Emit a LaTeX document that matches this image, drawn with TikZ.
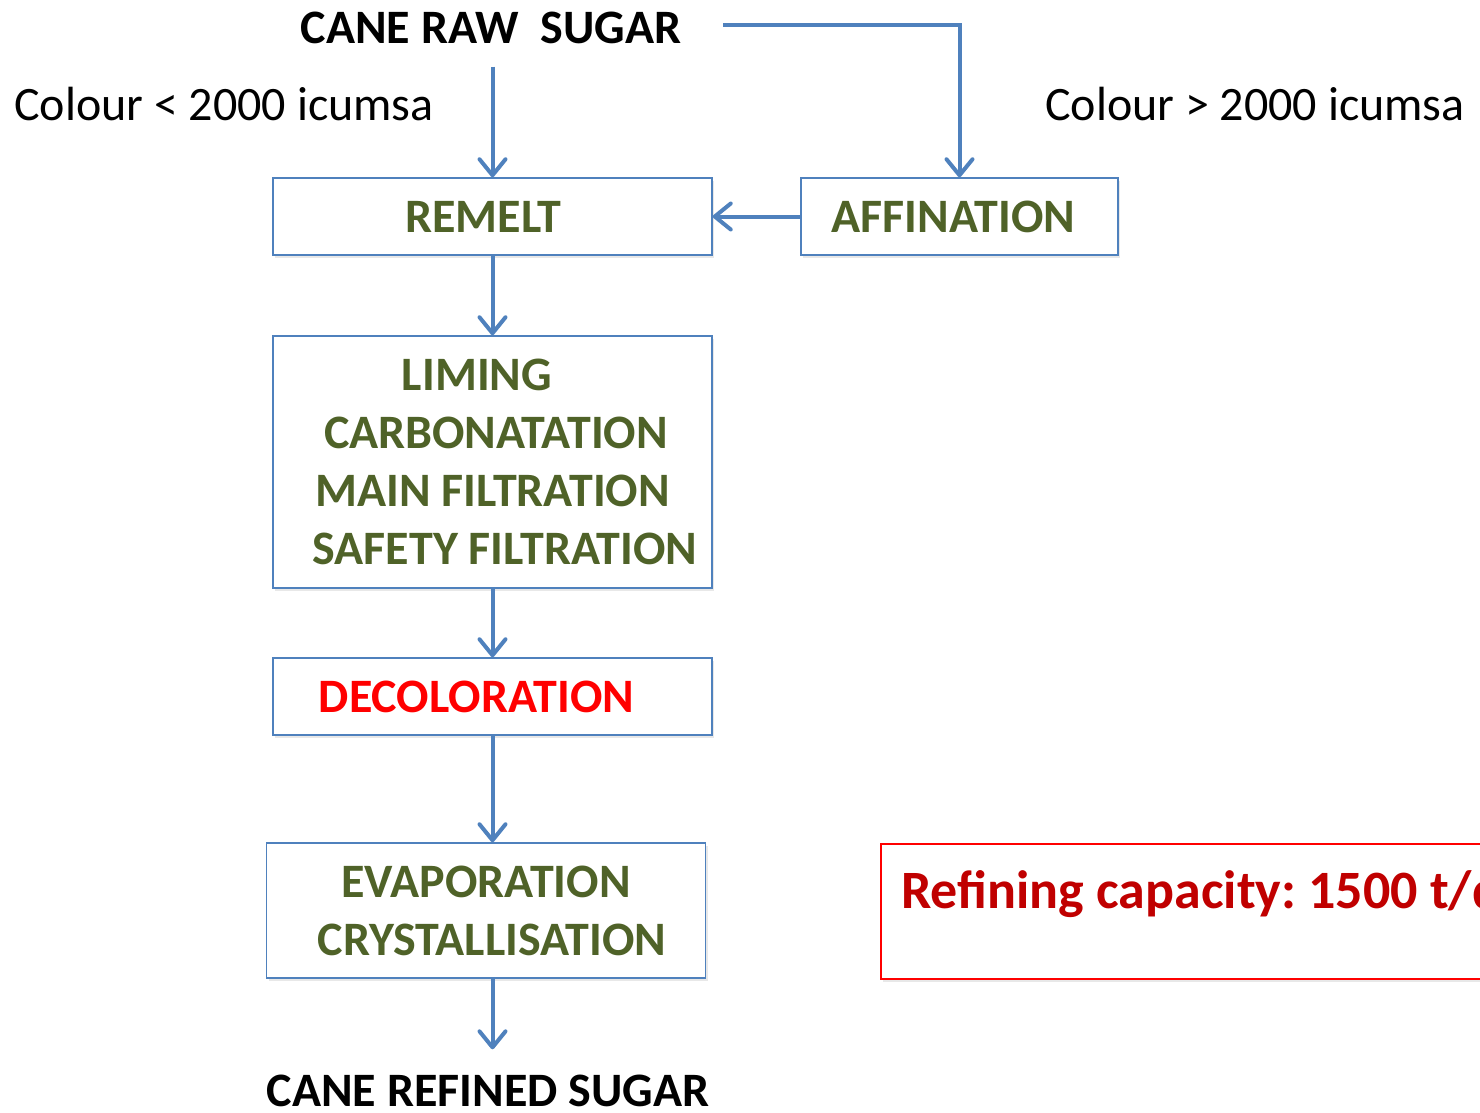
\documentclass[tikz,border=0pt]{standalone}
\usepackage{fontspec}
\setmainfont{Carlito}
\usepackage{tikz}
\usetikzlibrary{positioning, arrows.meta, shadows, calc}

\definecolor{flowblue}{HTML}{4F81BD}
\definecolor{stepgreen}{HTML}{4F6228}
\definecolor{capred}{HTML}{C00000}
\definecolor{brightred}{HTML}{FF0000}

\frenchspacing
\begin{document}
\begin{tikzpicture}[
  x=1pt, y=-1pt,
  node distance=80pt,
  >={Straight Barb[length=16pt, width=26pt, line cap=round, line join=round]},
  every node/.style={inner sep=0pt}
]
\tikzset{
  box/.style    ={draw=flowblue, line width=1.5pt, fill=white,
                  align=center, minimum width=439pt,
                  font=\fontsize{48}{58}\selectfont\bfseries,
                  text=stepgreen,
                  drop shadow={opacity=0.18, shadow xshift=2pt,
                               shadow yshift=-3pt}},
  onebox/.style ={box, minimum height=77pt},
  twobox/.style ={box, minimum height=135pt},
  fourbox/.style={box, minimum height=252pt},
  title/.style  ={font=\fontsize{48}{56}\selectfont\bfseries},
  note/.style   ={font=\fontsize{48}{56}\selectfont},
  arr/.style    ={->, draw=flowblue, line width=4pt},
  capbox/.style ={draw=brightred, line width=1.5pt, fill=white,
                  drop shadow={opacity=0.18, shadow xshift=2pt,
                               shadow yshift=-3pt}},
  captext/.style={font=\fontsize{54}{62}\selectfont\bfseries, text=capred}
}
\clip (0,0) rectangle (1480,1112);

%% ----- Input and colour notes -----
\node[title, anchor=base] (raw) at (491,43) {CANE RAW\ \ SUGAR};
\node[note, anchor=base west] (low) at (14,120) {Colour < 2000 icumsa};
\node[note, anchor=base east] (high) at (1465,120) {Colour > 2000 icumsa};

%% ----- Top row -----
\node[onebox, minimum width=439pt] (remelt) at (492.5,216.5)
  {REMELT\hspace*{18pt}};
\node[onebox, minimum width=317pt] (affin) at (959.5,216.5)
  {AFFINATION\hspace*{12pt}};

\draw[arr] ([yshift=-23pt]raw.south -| remelt.north) -- (remelt.north);
\draw[arr] ([xshift=42pt,yshift=2pt]raw.east) -| (affin.north);
\draw[arr] (affin.west) -- (remelt.east);

%% ----- Clarification column -----
\node[fourbox, below=79.5pt of remelt] (clarif)
  {LIMING\hspace*{31pt}\\
   \hspace*{7pt}CARBONATATION\\
   MAIN FILTRATION\\
   \hspace*{25pt}SAFETY FILTRATION};
\node[onebox, below=68.5pt of clarif] (decol)
  {\textcolor{brightred}{DECOLORATION}\hspace*{32pt}};
\node[twobox, below=106.5pt of decol, xshift=-6.5pt] (evap)
  {EVAPORATION\\
   \hspace*{12pt}CRYSTALLISATION};

\draw[arr] (remelt.south) -- (clarif.north);
\draw[arr] (clarif.south) -- (decol.north);
\draw[arr] (decol.south) -- (evap.north -| decol.south);

%% ----- Output -----
\node[title, anchor=base] (refined) at (488,1106) {CANE REFINED SUGAR};
\draw[arr] (evap.south -| decol.south) --
  ([yshift=25pt]refined.north -| decol.south);

%% ----- Capacity note (runs off the right edge) -----
\node[capbox, anchor=north west, minimum width=700pt,
      minimum height=135pt] (capframe) at (880,843) {};
\node[captext, anchor=base west] (cap) at (901,908)
  {Refining capacity: 1500 t/d};

\end{tikzpicture}
\end{document}
